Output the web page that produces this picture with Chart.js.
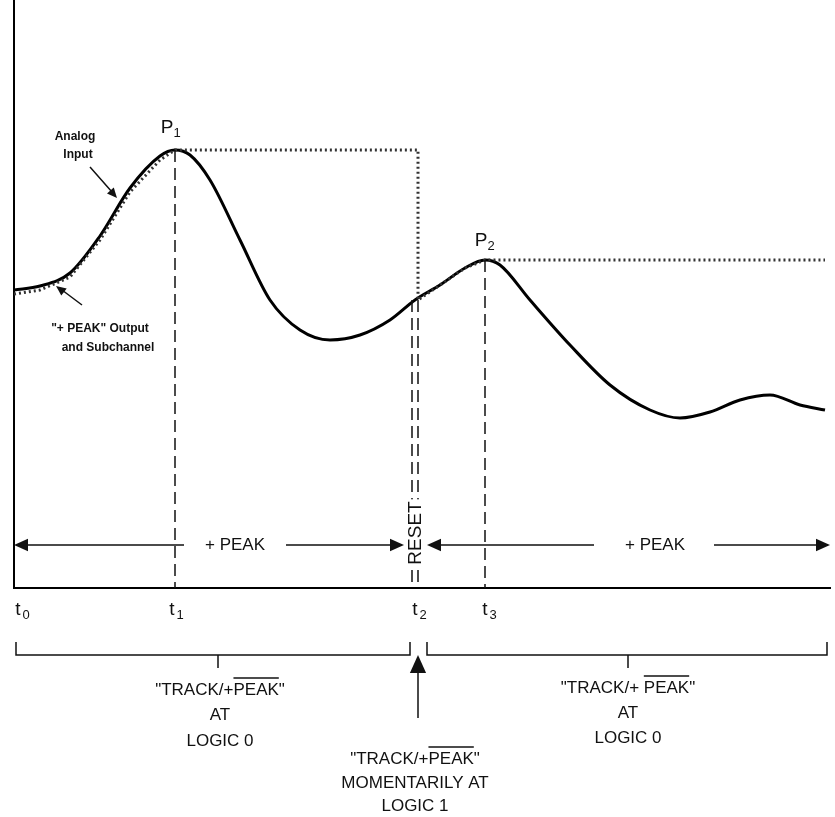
<!DOCTYPE html>
<html><head><meta charset="utf-8">
<script src="https://cdn.jsdelivr.net/npm/chart.js"></script>
<style>html,body{margin:0;padding:0;background:#fff}#w{width:835px;height:817px}</style>
</head><body><div id="w"><canvas id="c"></canvas></div>
<script>
// Analog input curve (x in time units, y in signal units)
const curveX=[0,26,56,86,116,146,161,176,196,226,256,286,316,346,376,401,426,451,471,486,516,556,596,636,666,696,726,756,786,811];
const curveY=[298,302,315,352,400,432,438,433,408,348,288,258,248,253,268,288,303,320,328,323,288,243,203,178,170,176,188,193,183,178];
// "+PEAK" output (held peaks)
const peakX=[0,26,56,86,116,146,161,404,404,426,451,471,811];
const peakY=[294,298,311,348,396,428,438,438,288,303,320,328,328];
// time marks
const tickNames=['0','1','2','3'];
const tickX=[4,158,401,471];
const markX=[161,398,471];
const markTop=[438,288,328];
const pts=(xs,ys)=>xs.map((x,i)=>({x,y:ys[i]}));
const FONT='"Liberation Sans", Arial, sans-serif';
function arrowHead(ctx,x,y,ang,s){ctx.save();ctx.translate(x,y);ctx.rotate(ang);ctx.beginPath();ctx.moveTo(0,0);ctx.lineTo(-s,-s*0.45);ctx.lineTo(-s,s*0.45);ctx.closePath();ctx.fill();ctx.restore();}
function over(ctx,txt,prefix,word,cx,y){
  ctx.textAlign='left';const full=ctx.measureText(txt).width;let x0=cx-full/2;
  ctx.fillText(txt,x0,y);const a=ctx.measureText(prefix).width,b=ctx.measureText(word).width;
  ctx.beginPath();ctx.moveTo(x0+a,y-17);ctx.lineTo(x0+a+b,y-17);ctx.lineWidth=1.3;ctx.stroke();}
const deco={id:'deco',afterDatasetsDraw(ch){
  const ctx=ch.ctx,X=v=>ch.scales.x.getPixelForValue(v),Y=v=>ch.scales.y.getPixelForValue(v);
  ctx.save();ctx.fillStyle='#111';ctx.strokeStyle='#111';
  ctx.setLineDash([12,6]);ctx.lineWidth=1.5;
  markX.forEach((m,i)=>{ctx.beginPath();ctx.moveTo(X(m),Y(markTop[i]));ctx.lineTo(X(m),Y(0));ctx.stroke();});
  ctx.beginPath();ctx.moveTo(X(404),Y(288));ctx.lineTo(X(404),Y(0));ctx.stroke();
  ctx.setLineDash([]);
  const ay=Y(43);ctx.lineWidth=1.5;
  ctx.beginPath();ctx.moveTo(X(4),ay);ctx.lineTo(X(170),ay);ctx.moveTo(X(272),ay);ctx.lineTo(X(385),ay);
  ctx.moveTo(X(418),ay);ctx.lineTo(X(580),ay);ctx.moveTo(X(700),ay);ctx.lineTo(X(814),ay);ctx.stroke();
  arrowHead(ctx,X(0),ay,Math.PI,14);arrowHead(ctx,X(390),ay,0,14);arrowHead(ctx,X(413),ay,Math.PI,14);arrowHead(ctx,X(816),ay,0,14);
  ctx.font='17px '+FONT;ctx.textAlign='center';ctx.textBaseline='middle';
  ctx.fillText('+ PEAK',X(221),ay);ctx.fillText('+ PEAK',X(641),ay);
  ctx.save();ctx.translate(X(401),ay-12);ctx.rotate(-Math.PI/2);
  ctx.font='19px '+FONT;const rw=ctx.measureText('RESET').width;
  ctx.fillStyle='#fff';ctx.fillRect(-rw/2-2,-10,rw+4,20);ctx.fillStyle='#111';ctx.fillText('RESET',0,1);ctx.restore();
  ctx.textBaseline='alphabetic';
  tickX.forEach((t,i)=>{ctx.font='19px '+FONT;ctx.textAlign='center';ctx.fillText('t',X(t),615);ctx.font='13px '+FONT;ctx.fillText(tickNames[i],X(t)+8,619);});
  ctx.font='19px '+FONT;ctx.fillText('P',X(153),133);ctx.fillText('P',X(467),246);
  ctx.font='13px '+FONT;ctx.fillText('1',X(153)+10,137);ctx.fillText('2',X(467)+10,250);
  ctx.font='bold 12px '+FONT;
  ctx.fillText('Analog',75,140);ctx.fillText('Input',78,158);
  ctx.fillText('"+ PEAK" Output',100,332);ctx.fillText('and Subchannel',108,351);
  ctx.lineWidth=1.5;ctx.beginPath();ctx.moveTo(90,167);ctx.lineTo(112,192);ctx.moveTo(82,305);ctx.lineTo(62,290);ctx.stroke();
  arrowHead(ctx,117,198,Math.atan2(25,22),10);arrowHead(ctx,56,286,Math.atan2(-15,-20),10);
  ctx.lineWidth=1.5;ctx.beginPath();
  ctx.moveTo(16,642);ctx.lineTo(16,655);ctx.lineTo(410,655);ctx.lineTo(410,642);
  ctx.moveTo(427,642);ctx.lineTo(427,655);ctx.lineTo(827,655);ctx.lineTo(827,642);
  ctx.moveTo(218,655);ctx.lineTo(218,668);ctx.moveTo(628,655);ctx.lineTo(628,668);
  ctx.moveTo(418,718);ctx.lineTo(418,672);ctx.stroke();arrowHead(ctx,418,655,-Math.PI/2,18);
  ctx.font='17px '+FONT;
  over(ctx,'"TRACK/+PEAK"','"TRACK/+','PEAK',220,695);ctx.textAlign='center';ctx.fillText('AT',220,720);ctx.fillText('LOGIC 0',220,746);
  over(ctx,'"TRACK/+ PEAK"','"TRACK/+ ','PEAK',628,693);ctx.textAlign='center';ctx.fillText('AT',628,718);ctx.fillText('LOGIC 0',628,743);
  over(ctx,'"TRACK/+PEAK"','"TRACK/+','PEAK',415,764);ctx.textAlign='center';ctx.fillText('MOMENTARILY AT',415,788);ctx.fillText('LOGIC 1',415,811);
  ctx.restore();}};
new Chart(document.getElementById('c'),{type:'scatter',
 data:{datasets:[
  {data:pts(peakX,peakY),showLine:true,borderColor:'#333',borderWidth:3,borderDash:[2,3],pointRadius:0,tension:0,fill:false},
  {data:pts(curveX,curveY),showLine:true,borderColor:'#000',borderWidth:3,pointRadius:0,cubicInterpolationMode:'monotone',fill:false}]},
 plugins:[deco],
 options:{responsive:true,maintainAspectRatio:false,animation:false,
  layout:{padding:{left:14,right:5,top:0,bottom:229}},
  plugins:{legend:{display:false},tooltip:{enabled:false}},
  scales:{x:{type:'linear',min:0,max:816,ticks:{display:false},grid:{display:false,drawTicks:false},border:{display:true,color:'#000',width:2}},
          y:{min:0,max:588,ticks:{display:false},grid:{display:false,drawTicks:false},border:{display:true,color:'#000',width:2}}}}});
</script></body></html>
